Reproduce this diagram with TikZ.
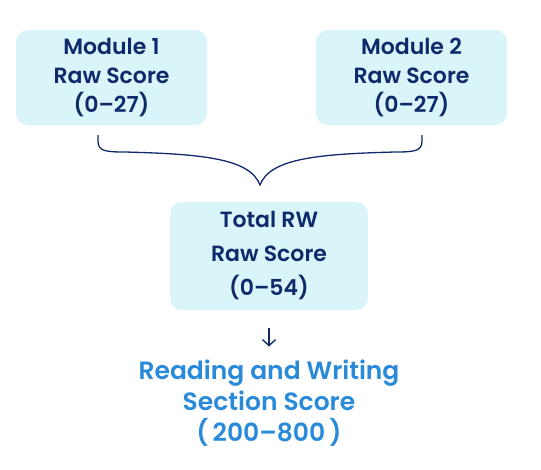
\documentclass[tikz,border=0pt]{standalone}
\usepackage{fontspec}
\setmainfont{Poppins}[BoldFont={Poppins SemiBold}]
\usetikzlibrary{arrows.meta}
\definecolor{boxfill}{HTML}{DAF5F9}
\definecolor{navy}{HTML}{0E2A6B}
\definecolor{rblue}{HTML}{2A8ADA}
\tikzset{
  scorebox/.style={fill=boxfill, rounded corners=12pt, align=center, text=navy,
    font=\fontsize{22}{29}\selectfont\bfseries, inner sep=0pt},
  brace/.style={draw=navy, line width=1.3pt},
  arr/.style={draw=navy, line width=1.4pt, -{Straight Barb[length=6pt,width=13pt,line width=1.4pt]}},
  result/.style={text=rblue, align=center, font=\fontsize{25}{31}\selectfont\bfseries, inner sep=0pt}
}
\begin{document}
\begin{tikzpicture}[x=1pt,y=-1pt]
\useasboundingbox (0,0) rectangle (541,469);
\node[scorebox, minimum width=191pt, minimum height=95pt] (m1) at (111.5,77.5) {Module 1\\Raw Score\\(0--27)};
\node[scorebox, minimum width=191pt, minimum height=95pt] (m2) at (411.5,77.5) {Module 2\\Raw Score\\(0--27)};
\node[scorebox, minimum width=198pt, minimum height=108pt, font=\fontsize{22}{34}\selectfont\bfseries] (tot) at (269,256) {Total RW\\Raw Score\\(0--54)};
\coordinate (bl) at (98,135);
\coordinate (br) at (422,135);
\coordinate (tip) at (260,185);
\draw[brace] (bl) -- (98,141) .. controls (98,151) and (105,152) .. (125,152)
  .. controls (200,154) and (250,158) .. (tip)
  .. controls (270,158) and (320,154) .. (395,152)
  .. controls (415,152) and (422,151) .. (422,141) -- (br);
\node[result] (res) at (269,403) {Reading and Writing\\Section Score\\(\,200--800\,)};
\draw[arr, shorten <=18pt, shorten >=13pt] (tot.south) -- (res.north);
\end{tikzpicture}
\end{document}
